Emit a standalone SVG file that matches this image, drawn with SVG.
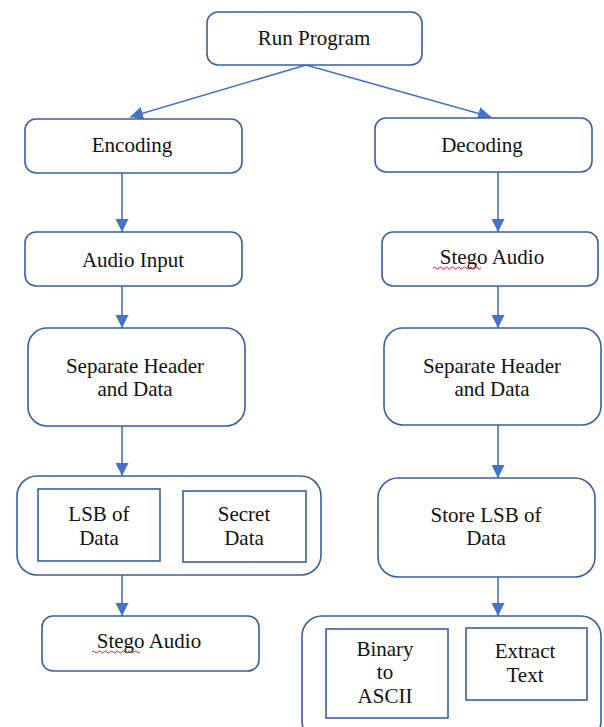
<svg xmlns="http://www.w3.org/2000/svg" width="604" height="727" viewBox="0 0 604 727">
<defs>
<style>
.box{fill:#fff;stroke:#3B5E9C;stroke-width:1.6}
.t{font-family:"Liberation Serif","DejaVu Serif","Times New Roman",serif;font-size:21px;fill:#111;text-anchor:middle}
.c{stroke:#4472C4;stroke-width:1.6;fill:none}
.sq{stroke:#E02020;stroke-width:1;fill:none}
</style>
<marker id="ah" markerUnits="userSpaceOnUse" markerWidth="13" markerHeight="13" viewBox="0 0 12 12" refX="12" refY="6" orient="auto">
<path d="M0,0 L12,6 L0,12 z" fill="#4472C4"/>
</marker>
</defs>
<rect width="604" height="727" fill="#fff"/>
<g id="connectors">
<line class="c" x1="306" y1="65" x2="130" y2="117" marker-end="url(#ah)"/>
<line class="c" x1="306" y1="65" x2="491" y2="117" marker-end="url(#ah)"/>
<line class="c" x1="122" y1="173" x2="122" y2="232" marker-end="url(#ah)"/>
<line class="c" x1="122" y1="286" x2="122" y2="328" marker-end="url(#ah)"/>
<line class="c" x1="122" y1="426" x2="122" y2="476" marker-end="url(#ah)"/>
<line class="c" x1="122" y1="575" x2="122" y2="616" marker-end="url(#ah)"/>
<line class="c" x1="498" y1="172" x2="498" y2="232" marker-end="url(#ah)"/>
<line class="c" x1="498" y1="286" x2="498" y2="328" marker-end="url(#ah)"/>
<line class="c" x1="498" y1="425" x2="498" y2="478" marker-end="url(#ah)"/>
<line class="c" x1="498" y1="577" x2="498" y2="616" marker-end="url(#ah)"/>
<line class="c" x1="160" y1="530" x2="183" y2="530"/>
<line class="c" x1="448" y1="668" x2="466" y2="668"/>
</g>
<g id="run-program">
<rect class="box" x="207" y="12" width="215" height="53" rx="11"/>
<text class="t" x="314" y="45">Run Program</text>
</g>
<g id="encoding">
<rect class="box" x="25" y="119" width="217" height="54" rx="11"/>
<text class="t" x="132" y="152">Encoding</text>
</g>
<g id="decoding">
<rect class="box" x="375" y="118" width="217" height="54" rx="11"/>
<text class="t" x="482" y="152">Decoding</text>
</g>
<g id="audio-input">
<rect class="box" x="25" y="232" width="217" height="54" rx="11"/>
<text class="t" x="133" y="267">Audio Input</text>
</g>
<g id="stego-audio-dec">
<rect class="box" x="382" y="232" width="216" height="54" rx="11"/>
<text class="t" x="492" y="264">Stego Audio</text>
<path class="sq" d="M433,268 q1.5,-2 3,0 t3,0 t3,0 t3,0 t3,0 t3,0 t3,0 t3,0 t3,0 t3,0 t3,0 t3,0 t3,0 t3,0 t3,0 t3,0"/>
</g>
<g id="separate-enc">
<rect class="box" x="28" y="328" width="217" height="98" rx="19"/>
<text class="t" x="135" y="373">Separate Header</text>
<text class="t" x="135" y="396">and Data</text>
</g>
<g id="separate-dec">
<rect class="box" x="384" y="328" width="217" height="97" rx="19"/>
<text class="t" x="492" y="373">Separate Header</text>
<text class="t" x="492" y="396">and Data</text>
</g>
<g id="embed-group">
<rect class="box" x="17" y="476" width="304" height="99" rx="20"/>
</g>
<g id="lsb-of-data">
<rect class="box" x="38" y="489" width="122" height="72"/>
<text class="t" x="99" y="521">LSB of</text>
<text class="t" x="99" y="545">Data</text>
</g>
<g id="secret-data">
<rect class="box" x="183" y="491" width="123" height="71"/>
<text class="t" x="244" y="521">Secret</text>
<text class="t" x="244" y="545">Data</text>
</g>
<g id="stego-audio-enc">
<rect class="box" x="42" y="616" width="217" height="55" rx="11"/>
<text class="t" x="149" y="648">Stego Audio</text>
<path class="sq" d="M92,652 q1.5,-2 3,0 t3,0 t3,0 t3,0 t3,0 t3,0 t3,0 t3,0 t3,0 t3,0 t3,0 t3,0 t3,0 t3,0 t3,0 t3,0"/>
</g>
<g id="store-lsb">
<rect class="box" x="378" y="478" width="217" height="99" rx="20"/>
<text class="t" x="486" y="522">Store LSB of</text>
<text class="t" x="486" y="545">Data</text>
</g>
<g id="extract-group">
<rect class="box" x="302" y="616" width="299" height="125" rx="20"/>
</g>
<g id="binary-to-ascii">
<rect class="box" x="326" y="629" width="122" height="89"/>
<text class="t" x="385" y="656">Binary</text>
<text class="t" x="385" y="679">to</text>
<text class="t" x="385" y="703">ASCII</text>
</g>
<g id="extract-text">
<rect class="box" x="466" y="628" width="121" height="72"/>
<text class="t" x="525" y="658">Extract</text>
<text class="t" x="525" y="682">Text</text>
</g>
</svg>
